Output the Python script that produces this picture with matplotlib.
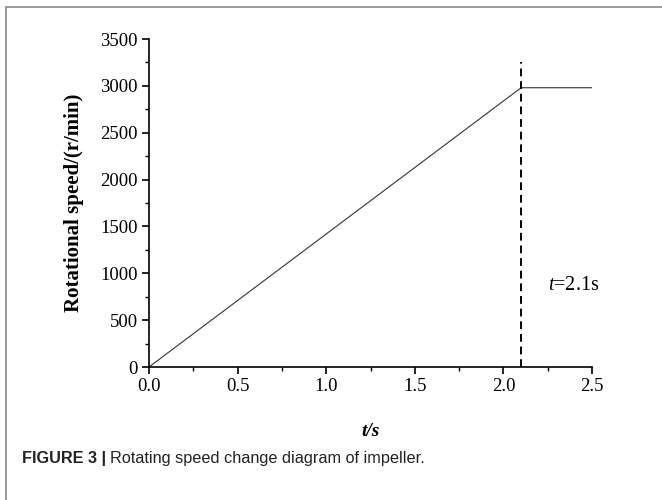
import matplotlib.pyplot as plt
from matplotlib.patches import Rectangle
from matplotlib.ticker import MultipleLocator

# speed curve: linear ramp to full speed at t = 2.1 s, then constant
t_pts = [0.0, 2.1, 2.5]
speed_pts = [0, 2980, 2980]
t_switch = 2.1
xticks = [0.0, 0.5, 1.0, 1.5, 2.0, 2.5]
yticks = [0, 500, 1000, 1500, 2000, 2500, 3000, 3500]

serif = ["Liberation Serif", "DejaVu Serif"]
plt.rcParams["mathtext.fontset"] = "custom"
plt.rcParams["mathtext.it"] = "Liberation Serif:italic"
plt.rcParams["mathtext.rm"] = "Liberation Serif"

fig = plt.figure(figsize=(6.62, 5.0), dpi=100)
fig.patches.append(Rectangle((6 / 662, -0.1), 1.2, 1.1 - 7 / 500,
                             transform=fig.transFigure, fill=False,
                             edgecolor="#8a8a8a", linewidth=1.2))

ax = fig.add_axes([149 / 662, 1 - 367 / 500, 443 / 662, 328 / 500])
ax.plot(t_pts, speed_pts, color="#333333", lw=0.8)
ax.plot([t_switch, t_switch], [0, 3250], color="black", lw=1.4,
        ls=(0, (4, 2.5)), clip_on=False)

ax.set_xlim(0, 2.5)
ax.set_ylim(0, 3500)
ax.set_xticks(xticks)
ax.set_yticks(yticks)
ax.set_xticklabels([f"{v:.1f}" for v in xticks], family=serif, fontsize=13.5)
ax.set_yticklabels([str(v) for v in yticks], family=serif, fontsize=13.5)
ax.xaxis.set_minor_locator(MultipleLocator(0.25))
ax.yaxis.set_minor_locator(MultipleLocator(250))
ax.tick_params(which="major", direction="out", length=5, width=1.2, pad=3)
ax.tick_params(which="minor", direction="out", length=3, width=1.0)
for s in ["top", "right"]:
    ax.spines[s].set_visible(False)
for s in ["left", "bottom"]:
    ax.spines[s].set_linewidth(1.2)

ax.set_ylabel("Rotational speed/(r/min)", family=serif, fontsize=15,
              fontweight="bold", labelpad=12)
ax.set_xlabel("t/s", family=serif, fontsize=14, fontweight="bold",
              fontstyle="italic", labelpad=20)
ax.text(2.25, 820, "$t$=2.1s", family=serif, fontsize=14.5)

cap_y = 1 - 458 / 500
lead = fig.text(22 / 662, cap_y, "FIGURE 3 |", family="Liberation Sans",
                fontsize=11.7, fontweight="bold", va="center", color="#222222")
fig.canvas.draw()
bb = lead.get_window_extent().transformed(fig.transFigure.inverted())
fig.text(bb.x1 + 4 / 662, cap_y, "Rotating speed change diagram of impeller.",
         family="Liberation Sans", fontsize=11.7, va="center", color="#222222")

fig.savefig("out.png", dpi=100)
